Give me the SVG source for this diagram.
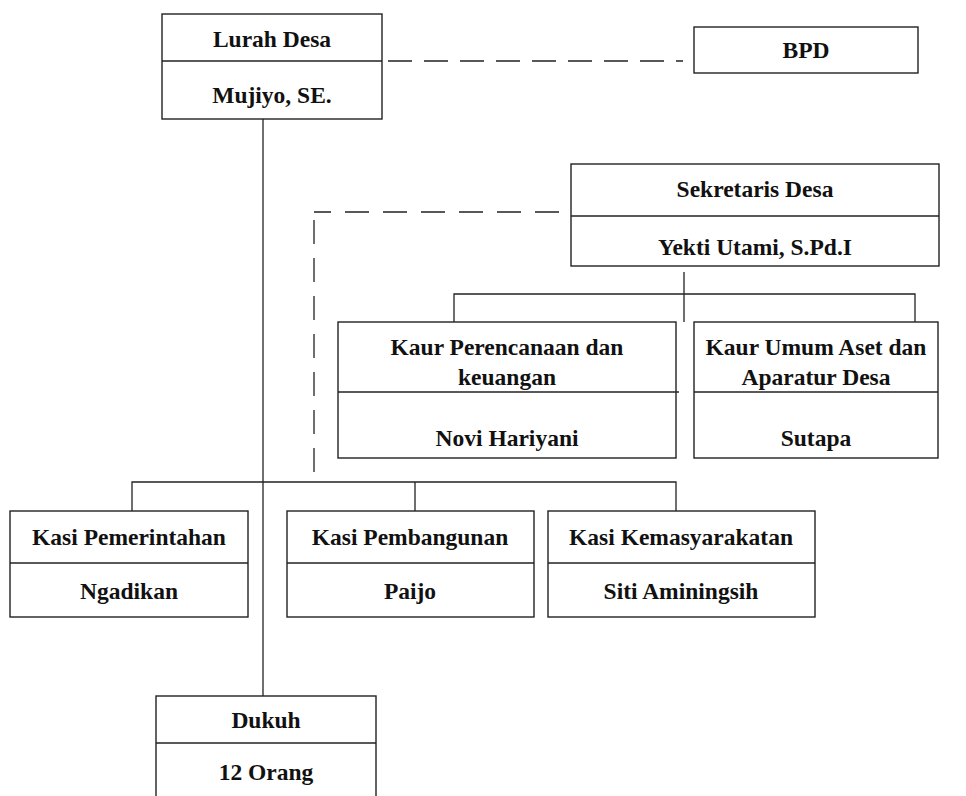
<svg xmlns="http://www.w3.org/2000/svg" width="966" height="796" viewBox="0 0 966 796">
<style>
.box{fill:#fff;stroke:#222;stroke-width:1.4}
.ln{fill:none;stroke:#222;stroke-width:1.3}
.dash{fill:none;stroke:#222;stroke-width:1.3;stroke-dasharray:24 12}
text{font-family:"Liberation Serif","Times New Roman",serif;font-weight:bold;font-size:23.5px;fill:#111;text-anchor:middle}
</style>
<rect width="966" height="796" fill="#fff"/>
<g id="connectors">
<path class="dash" d="M388,61 H683"/>
<path class="dash" d="M559,212 H314 M314,220 V474" style="stroke-dasharray:24 14"/>
<path class="ln" d="M263,119 V696"/>
<path class="ln" d="M684,272 V322 M454,322 V294 H915 V322"/>
<path class="ln" d="M132,511 V482 H676 V511 M415,482 V511"/>
</g>
<g id="lurah">
<rect class="box" x="162" y="14" width="220" height="105"/>
<path class="ln" d="M162,61 H382"/>
<text x="272" y="47">Lurah Desa</text>
<text x="272" y="103">Mujiyo, SE.</text>
</g>
<g id="bpd">
<rect class="box" x="694" y="27" width="224" height="46"/>
<text x="806" y="58">BPD</text>
</g>
<g id="sekretaris">
<rect class="box" x="571" y="164" width="368" height="102"/>
<path class="ln" d="M571,216 H939"/>
<text x="755" y="197">Sekretaris Desa</text>
<text x="755" y="255">Yekti Utami, S.Pd.I</text>
</g>
<g id="kaur-perencanaan">
<rect class="box" x="338" y="322" width="338" height="136"/>
<path class="ln" d="M338,392 H679"/>
<text x="507" y="355">Kaur Perencanaan dan</text>
<text x="507" y="385">keuangan</text>
<text x="507" y="446">Novi Hariyani</text>
</g>
<g id="kaur-umum">
<rect class="box" x="694" y="322" width="244" height="136"/>
<path class="ln" d="M694,392 H938"/>
<text x="816" y="355">Kaur Umum Aset dan</text>
<text x="816" y="385">Aparatur Desa</text>
<text x="816" y="446">Sutapa</text>
</g>
<g id="kasi-pemerintahan">
<rect class="box" x="10" y="511" width="238" height="106"/>
<path class="ln" d="M10,563 H248"/>
<text x="129" y="545">Kasi Pemerintahan</text>
<text x="129" y="599">Ngadikan</text>
</g>
<g id="kasi-pembangunan">
<rect class="box" x="287" y="511" width="247" height="106"/>
<path class="ln" d="M287,563 H534"/>
<text x="410" y="545">Kasi Pembangunan</text>
<text x="410" y="599">Paijo</text>
</g>
<g id="kasi-kemasyarakatan">
<rect class="box" x="548" y="511" width="267" height="106"/>
<path class="ln" d="M548,563 H815"/>
<text x="681" y="545">Kasi Kemasyarakatan</text>
<text x="681" y="599">Siti Aminingsih</text>
</g>
<g id="dukuh">
<rect class="box" x="156" y="696" width="220" height="110"/>
<path class="ln" d="M156,743 H376"/>
<text x="266" y="728">Dukuh</text>
<text x="266" y="780">12 Orang</text>
</g>
</svg>
